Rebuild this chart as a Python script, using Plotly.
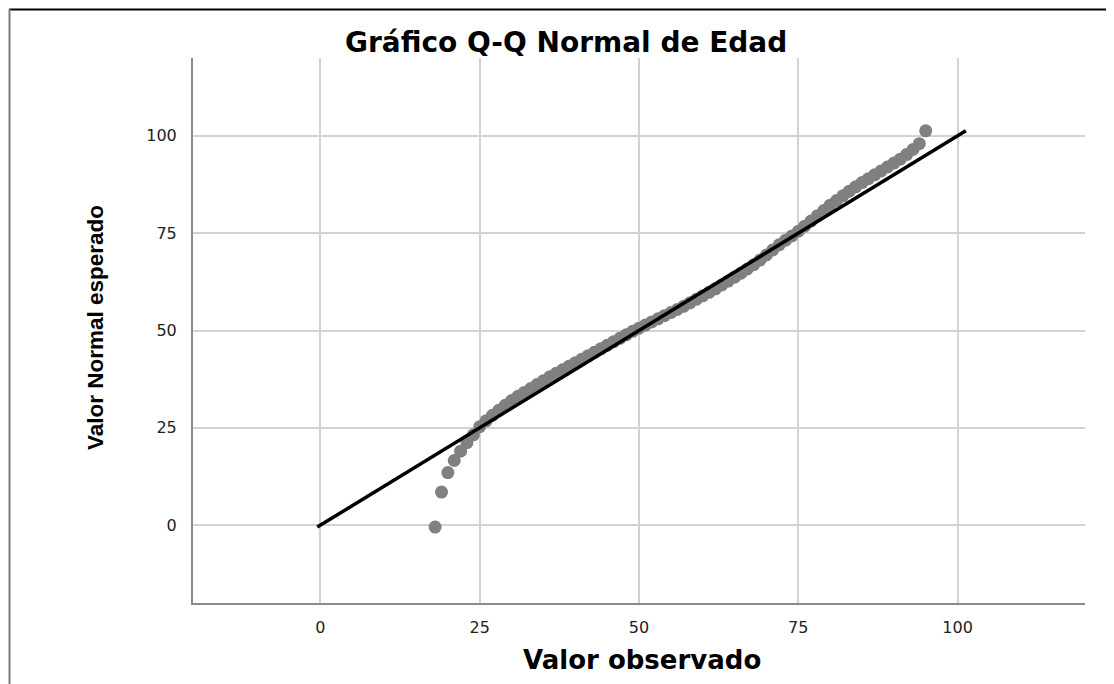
import plotly.graph_objects as go

# observed ages (distinct values) and their expected normal values
edad_observada = [
    18, 19, 20, 21, 22, 23, 24, 25, 26, 27, 28, 29, 30, 31, 32, 33, 34, 35, 36, 37,
    38, 39, 40, 41, 42, 43, 44, 45, 46, 47, 48, 49, 50, 51, 52, 53, 54, 55, 56, 57,
    58, 59, 60, 61, 62, 63, 64, 65, 66, 67, 68, 69, 70, 71, 72, 73, 74, 75, 76, 77,
    78, 79, 80, 81, 82, 83, 84, 85, 86, 87, 88, 89, 90, 91, 92, 93, 94, 95,
]
normal_esperado = [
    -0.5, 8.5, 13.5, 16.6, 19.0, 21.2, 23.2, 25.3, 26.8, 28.2, 29.5, 30.8, 32.0, 33.1, 34.1, 35.1, 36.1, 37.1, 38.1, 39.0,
    39.9, 40.8, 41.7, 42.6, 43.5, 44.4, 45.3, 46.2, 47.1, 48.0, 48.9, 49.8, 50.6, 51.4, 52.2, 53.0, 53.8, 54.6, 55.4, 56.2,
    57.1, 58.0, 58.9, 59.8, 60.7, 61.7, 62.7, 63.7, 64.7, 65.8, 66.9, 68.1, 69.4, 70.7, 72.0, 73.2, 74.3, 75.5, 76.8, 78.1,
    79.5, 80.8, 82.2, 83.4, 84.6, 85.8, 86.9, 88.0, 89.0, 90.0, 91.0, 92.0, 93.0, 94.0, 95.2, 96.5, 98.0, 101.3,
]
linea_ref = [-0.5, 101.3]

tick_vals = [0, 25, 50, 75, 100]
tick_text = ["0", "25", "50", "75", "100"]
rango = [-20, 120]

# the page body adds an 8px margin, so work in shifted pixel coordinates
OFF = 8
W, H = 1114 - OFF, 684 - OFF
L, R, T, B = 193 - OFF, 1085 - OFF, 58 - OFF, 603 - OFF
pw, ph = R - L, B - T


def px_x(x):
    return (x - OFF - L) / pw


def px_y(y):
    return (B - (y - OFF)) / ph


fig = go.Figure()
fig.add_trace(go.Scatter(
    x=edad_observada,
    y=normal_esperado,
    mode="markers",
    marker={"color": "#808080", "size": 13, "line": {"width": 0}},
    showlegend=False,
))
fig.add_trace(go.Scatter(
    x=linea_ref,
    y=linea_ref,
    mode="lines",
    line={"color": "black", "width": 3.5},
    showlegend=False,
))

axis_common = {
    "range": rango,
    "tickvals": tick_vals,
    "ticktext": tick_text,
    "showgrid": True,
    "gridcolor": "#d2d2d2",
    "gridwidth": 1.5,
    "zeroline": False,
    "showline": True,
    "linecolor": "#8a8a8a",
    "linewidth": 2,
    "ticks": "outside",
    "tickcolor": "rgba(0,0,0,0)",
    "tickfont": {"family": "DejaVu Sans", "size": 16, "color": "#222222"},
}

fig.update_layout(
    width=W,
    height=H,
    margin={"l": L, "r": W - R, "t": T, "b": H - B, "autoexpand": False},
    paper_bgcolor="white",
    plot_bgcolor="white",
    xaxis={**axis_common, "ticklen": 9},
    yaxis={**axis_common, "ticklen": 11},
    annotations=[
        {"text": "<b>Gráfico Q-Q Normal de Edad</b>", "xref": "paper", "yref": "paper",
         "x": px_x(566), "y": px_y(42), "xanchor": "center", "yanchor": "middle",
         "showarrow": False, "font": {"family": "DejaVu Sans", "size": 28, "color": "black"}},
        {"text": "<b>Valor observado</b>", "xref": "paper", "yref": "paper",
         "x": px_x(642), "y": px_y(660), "xanchor": "center", "yanchor": "middle",
         "showarrow": False, "font": {"family": "DejaVu Sans", "size": 26, "color": "black"}},
        {"text": "<b>Valor Normal esperado</b>", "xref": "paper", "yref": "paper",
         "x": px_x(95), "y": px_y(328), "xanchor": "center", "yanchor": "middle",
         "textangle": -90, "showarrow": False,
         "font": {"family": "Liberation Sans", "size": 22.5, "color": "black"}},
    ],
    shapes=[
        {"type": "line", "xref": "paper", "yref": "paper",
         "x0": px_x(9), "x1": px_x(1114), "y0": px_y(9.5), "y1": px_y(9.5),
         "line": {"color": "black", "width": 2}},
        {"type": "line", "xref": "paper", "yref": "paper",
         "x0": px_x(9.5), "x1": px_x(9.5), "y0": px_y(9), "y1": px_y(684),
         "line": {"color": "#7a7a7a", "width": 2}},
    ],
)

fig.write_html("out.html")
